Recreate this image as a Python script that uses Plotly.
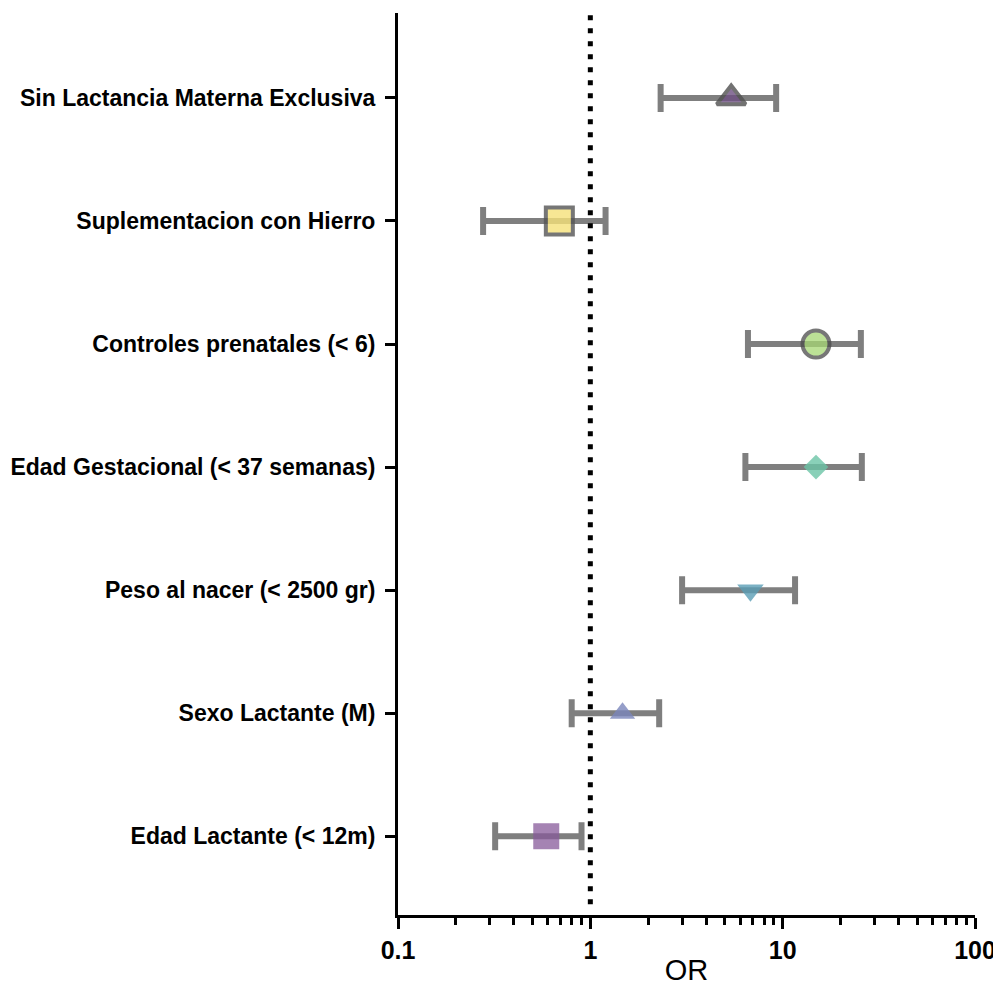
import plotly.graph_objects as go

categories = [
    "Sin Lactancia Materna Exclusiva",
    "Suplementacion con Hierro",
    "Controles prenatales (< 6)",
    "Edad Gestacional (< 37 semanas)",
    "Peso al nacer (< 2500 gr)",
    "Sexo Lactante (M)",
    "Edad Lactante (< 12m)",
]
or_values = [5.4, 0.69, 14.9, 14.9, 6.8, 1.47, 0.59]
ci_low = [2.32, 0.277, 6.6, 6.4, 3.0, 0.80, 0.32]
ci_high = [9.25, 1.20, 25.5, 25.8, 11.6, 2.28, 0.90]

symbols = ["triangle-up", "square", "circle", "diamond", "triangle-down", "triangle-up", "square"]
fill_colors = ["#6e4f82", "#f6e27a", "#a6d873", "#6cc4a6", "#5a9db5", "#7a86bb", "#87599a"]
line_colors = ["#505050", "#555555", "#4a4a4a", "#6cc4a6", "#5a9db5", "#7a86bb", "#87599a"]
line_widths = [4, 4, 4, 0, 0, 0, 0]
sizes = [25, 27, 27, 19, 23, 22, 26]
opacities = [0.8, 0.8, 0.75, 0.8, 0.8, 0.8, 0.75]

err_plus = [h - v for h, v in zip(ci_high, or_values)]
err_minus = [v - l for v, l in zip(or_values, ci_low)]

FONT = "Liberation Sans, Arial, Helvetica, sans-serif"

fig = go.Figure()
fig.add_trace(go.Scatter(
    x=or_values,
    y=categories,
    mode="markers",
    marker=dict(symbol=symbols, color=fill_colors, size=sizes, opacity=opacities,
                line=dict(color=line_colors, width=line_widths)),
    error_x=dict(type="data", symmetric=False, array=err_plus, arrayminus=err_minus,
                 color="#7f7f7f", thickness=6, width=14),
    showlegend=False,
    hoverinfo="x+y",
))

fig.add_shape(type="line", xref="x", yref="paper", x0=1, x1=1, y0=0.012, y1=1.0,
              line=dict(color="black", width=5, dash="5px,8px"), layer="above")

fig.update_layout(
    width=993, height=978,
    margin=dict(l=390, r=26, t=5, b=71, autoexpand=False),
    plot_bgcolor="white", paper_bgcolor="white",
    font=dict(family=FONT, color="black"),
)
fig.update_xaxes(
    type="log", range=[-1, 2], automargin=False, ticklabeloverflow="allow",
    tickvals=[0.1, 1, 10, 100], ticktext=["0.1", "1", "10", "100"],
    tickfont=dict(size=25, family=FONT, weight="bold"),
    ticks="outside", ticklen=11, tickwidth=3, tickcolor="black",
    showline=True, linewidth=3, linecolor="black", showgrid=False, zeroline=False,
    minor=dict(ticks="outside", ticklen=7, tickwidth=2.5, tickcolor="black", dtick="D1", showgrid=False),
    title=dict(text="OR", font=dict(size=29, family=FONT), standoff=8),
)
fig.update_yaxes(
    type="category", categoryorder="array", categoryarray=categories[::-1],
    range=[-0.64, 6.69], automargin=False,
    tickfont=dict(size=23, family=FONT, weight="bold"),
    ticks="outside", ticklen=10, tickwidth=3, tickcolor="black", ticklabelstandoff=5,
    showline=True, linewidth=3, linecolor="black", showgrid=False, zeroline=False,
)

fig.write_html("out.html")
